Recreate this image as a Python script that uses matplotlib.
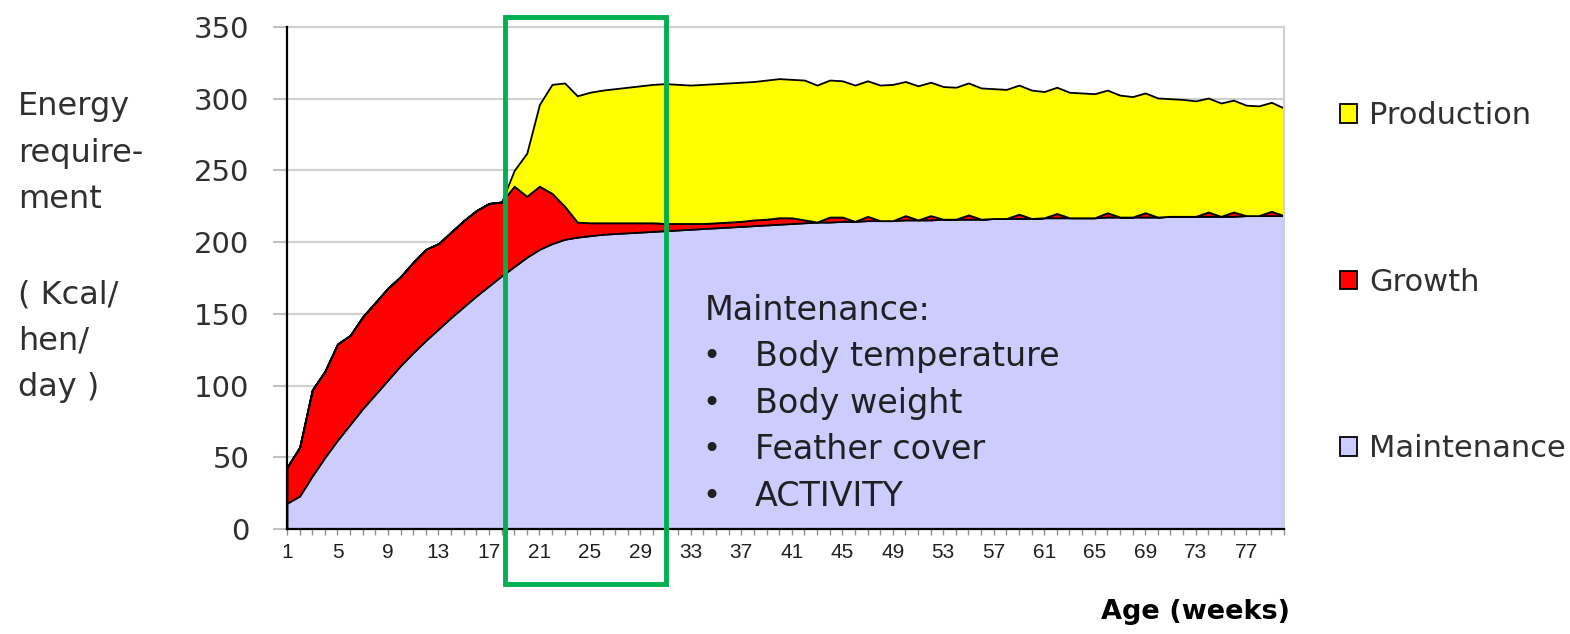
import matplotlib.pyplot as plt
import numpy as np
from matplotlib.patches import Rectangle

# weeks of age (category axis)
weeks = list(range(1, 81))

# energy requirement components, Kcal/hen/day
maintenance = [18, 23, 37, 50, 62, 73, 84, 94, 104, 114,
               123, 131.5, 139.5, 147.5, 155, 162.5, 169.5, 176.5, 183, 189.5,
               195, 199, 202, 203.5, 204.5, 205.5, 206, 206.5, 207, 207.5,
               208, 208.5, 209, 209.5, 210, 210.5, 211, 211.5, 212, 212.5,
               213, 213.5, 214, 214, 214.5, 214.5, 215, 215, 215, 215.5,
               215.5, 215.5, 216, 216, 216, 216, 216.5, 216.5, 216.5, 216.5,
               217, 217, 217, 217, 217, 217.5, 217.5, 217.5, 217.5, 217.5,
               218, 218, 218, 218, 218, 218, 218.5, 218.5, 218.5, 218.5]
growth = [25, 34, 60, 60, 67, 62, 64, 64, 64, 62,
          63, 63.5, 59.5, 59.5, 60, 59.5, 57.5, 51.5, 56, 42.5,
          44, 35, 23, 10.5, 9, 8, 7.5, 7, 6.5, 6,
          5, 4.5, 4, 3.5, 3.5, 3.5, 3.5, 4, 4, 4.5,
          4, 2, 0, 3.5, 3, 0, 3, 0, 0, 3,
          0, 3, 0, 0, 3, 0, 0, 0, 3, 0,
          0, 3, 0, 0, 0, 3, 0, 0, 3, 0,
          0, 0, 0, 3, 0, 3, 0, 0, 3, 0]
production = [0, 0, 0, 0, 0, 0, 0, 0, 0, 0,
              0, 0, 0, 0, 0, 0, 0, 0, 11, 30,
              57, 76, 86, 88, 91, 92.5, 93.5, 94.5, 95.5, 96.5,
              97.5, 97, 96.5, 97, 97, 97, 97, 96.5, 97, 97,
              96.5, 97.5, 95.5, 95.5, 95, 95, 94.5, 94.5, 95, 93.5,
              93.5, 93, 92.5, 92, 92, 91.5, 90.5, 90, 90, 89.5,
              88, 88, 87.5, 87, 86.5, 85.5, 85, 84, 83.5, 83,
              82, 81.5, 80.5, 79.5, 79, 78, 77, 76.5, 76, 75]

labels = ['Maintenance', 'Growth', 'Production']
colors = ['#CCCCFF', '#FF0000', '#FFFF00']

maint_items = ['Body temperature', 'Body weight', 'Feather cover', 'ACTIVITY']

fig = plt.figure(figsize=(15.7, 6.34), dpi=100)
ax = fig.add_axes([287/1570, 1 - 529/634, (1284-287)/1570, (529-27)/634])

polys = ax.stackplot(weeks, maintenance, growth, production,
                     colors=colors, labels=labels,
                     edgecolor='black', linewidth=1.3, zorder=2)

ax.set_xlim(1, 80)
ax.set_ylim(0, 350)
ax.set_yticks(np.arange(0, 351, 50))
ax.set_xticks(np.arange(1, 80, 4))
ax.set_xticks(np.arange(1, 81, 1), minor=True)
ax.grid(axis='y', color='#d0d0d0', linewidth=1.5, zorder=0)
ax.set_axisbelow(True)

for s in ['left', 'bottom']:
    ax.spines[s].set_color('black')
    ax.spines[s].set_linewidth(1.6)
    ax.spines[s].set_zorder(3)
for s in ['top', 'right']:
    ax.spines[s].set_color('#d0d0d0')
    ax.spines[s].set_linewidth(1.5)

ax.tick_params(axis='y', length=10, width=1.5, color='#c0c0c0', pad=17,
               labelsize=21, labelcolor='#303030')
ax.tick_params(axis='x', which='both', length=4, width=1, color='#909090',
               pad=6, labelsize=15, labelcolor='#202020')
for t in ax.get_xticklabels():
    t.set_family(['Liberation Sans Narrow', 'Liberation Sans'])

# y axis title, two blocks as on the slide
fig.text(18/1570, 1 - 153/634, 'Energy\nrequire-\nment', ha='left',
         va='center', fontsize=23, color='#303030', linespacing=1.64)
fig.text(18/1570, 1 - 341/634, '( Kcal/\nhen/\nday )', ha='left',
         va='center', fontsize=23, color='#303030', linespacing=1.64)

fig.text(1290/1570, 1 - 612/634, 'Age (weeks)', ha='right', va='center',
         fontsize=19.5, weight='bold', color='black')

# annotation inside the maintenance area
ax.text(0.419, 0.436, 'Maintenance:', transform=ax.transAxes, va='center',
        ha='left', fontsize=24, color='#202020')
for i, item in enumerate(maint_items):
    yy = 0.343 - i * 0.0925
    ax.text(0.426, yy, '\u2022', transform=ax.transAxes, va='center',
            ha='center', fontsize=22, color='#202020')
    ax.text(0.469, yy, item, transform=ax.transAxes, va='center',
            ha='left', fontsize=24, color='#202020')

# green highlight box
ax.add_patch(Rectangle((18.3, -38), 31.0 - 18.3, 357 + 38, fill=False,
                       edgecolor='#00B050', linewidth=3.5, clip_on=False,
                       zorder=5))

handles = polys[::-1]
leg = fig.legend(handles, labels[::-1], loc='upper left',
                 bbox_to_anchor=(1328/1570, 1 - 89/634), frameon=False,
                 fontsize=22, handlelength=0.55, handleheight=0.55,
                 handletextpad=0.4, labelspacing=4.5, borderaxespad=0)
for t in leg.get_texts():
    t.set_color('#303030')

plt.savefig('out.png', dpi=100)
